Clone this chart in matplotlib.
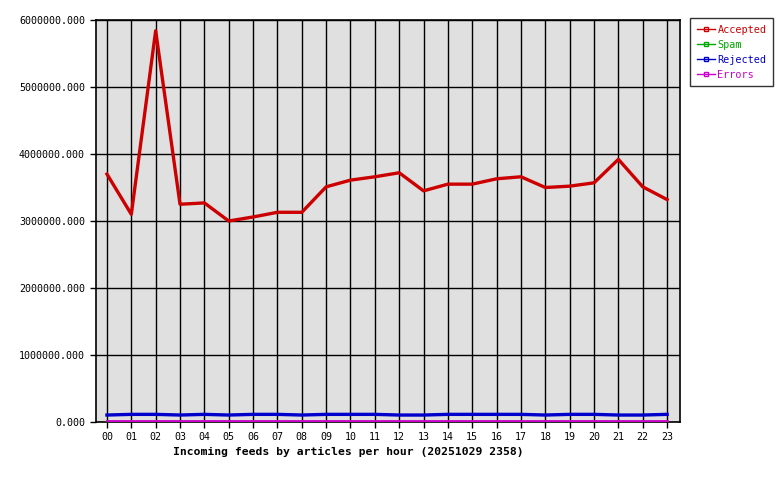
import numpy as np
import matplotlib
matplotlib.use("Agg")
import matplotlib.pyplot as plt
from matplotlib.ticker import FormatStrFormatter
from matplotlib.lines import Line2D

hours = ["00", "01", "02", "03", "04", "05", "06", "07", "08", "09", "10", "11",
         "12", "13", "14", "15", "16", "17", "18", "19", "20", "21", "22", "23"]
accepted = [3700000, 3100000, 5840000, 3250000, 3270000, 3000000, 3060000, 3130000,
            3130000, 3510000, 3610000, 3660000, 3720000, 3450000, 3550000, 3550000,
            3630000, 3660000, 3500000, 3520000, 3570000, 3920000, 3510000, 3320000]
spam = [0] * 24
rejected = [104000, 114000, 114000, 104000, 114000, 104000, 114000, 114000,
            104000, 114000, 114000, 114000, 104000, 104000, 114000, 114000,
            114000, 114000, 104000, 114000, 114000, 104000, 104000, 114000]
errors = [15000] * 24

font = "DejaVu Sans Mono"
plt.rcParams["font.family"] = font

fig = plt.figure(figsize=(7.8, 4.8), dpi=100)
ax = fig.add_axes([96/780, 1-422/480, (680-96)/780, (422-20)/480])
ax.set_facecolor("#e0e0e0")

x = np.arange(len(hours))
ax.plot(x, spam, color="#00aa00", lw=2.4, label="Spam", zorder=3)
ax.plot(x, rejected, color="#0000cc", lw=2.4, label="Rejected", zorder=3)
ax.plot(x, errors, color="#cc00cc", lw=2.0, label="Errors", zorder=4)
ax.plot(x, accepted, color="#cc0000", lw=2.4, label="Accepted", zorder=5)

ax.set_xlim(-0.45, 23.53)
ax.set_ylim(0, 6000000)
ax.set_xticks(x)
ax.set_xticklabels(hours)
ax.set_yticks(np.arange(0, 6000001, 1000000))
ax.yaxis.set_major_formatter(FormatStrFormatter("%.3f"))
ax.grid(True, color="black", lw=1)
ax.set_axisbelow(True)
ax.tick_params(direction="out", length=4, width=1, labelsize=7.2)
ax.tick_params(axis="x", pad=3)
ax.tick_params(axis="y", pad=4)
for s in ax.spines.values():
    s.set_color("black")
    s.set_linewidth(1.2)

fig.text(348/780, 1-452/480, "Incoming feeds by articles per hour (20251029 2358)",
         ha="center", va="center", fontsize=8.2, fontweight="bold", family=font)

# legend
order = ["Accepted", "Spam", "Rejected", "Errors"]
cols = {"Accepted": "#cc0000", "Spam": "#00aa00", "Rejected": "#0000cc", "Errors": "#cc00cc"}
lh = [Line2D([0], [0], color=cols[k], lw=1, marker="s", markersize=2.5,
             markerfacecolor="none", markeredgecolor=cols[k]) for k in order]
leg = fig.legend(lh, order, loc="upper left", bbox_to_anchor=(690/780, 1-18/480),
                 frameon=True, fancybox=False, edgecolor="black", fontsize=7.3,
                 handlelength=1.8, handletextpad=0.25, borderpad=0.65, labelspacing=0.5,
                 borderaxespad=0)
leg.get_frame().set_linewidth(1)
for t, k in zip(leg.get_texts(), order):
    t.set_color(cols[k])

fig.savefig("out.png", dpi=100)
